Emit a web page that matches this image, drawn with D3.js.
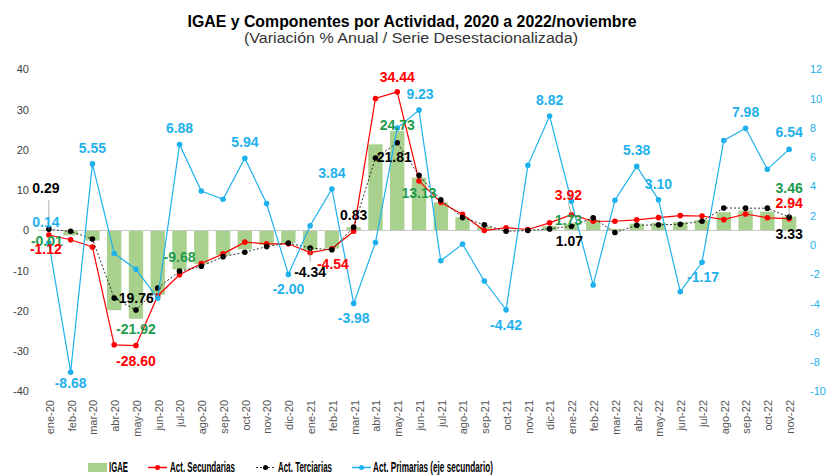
<!DOCTYPE html>
<html>
<head>
<meta charset="utf-8">
<script src="https://cdn.jsdelivr.net/npm/d3@7"></script>
<style>
  body { margin: 0; background: #fff; }
  text { font-family: "Liberation Sans", Arial, sans-serif; }
</style>
</head>
<body>
<svg id="chart" width="828" height="475"></svg>
<script>
// months, ene-20 .. nov-22
var months = ["ene-20","feb-20","mar-20","abr-20","may-20","jun-20","jul-20","ago-20","sep-20","oct-20","nov-20","dic-20",
  "ene-21","feb-21","mar-21","abr-21","may-21","jun-21","jul-21","ago-21","sep-21","oct-21","nov-21","dic-21",
  "ene-22","feb-22","mar-22","abr-22","may-22","jun-22","jul-22","ago-22","sep-22","oct-22","nov-22"]

var igae = [-0.01,-1.2,-2.5,-19.8,-21.92,-16.0,-9.68,-8.3,-6.1,-4.7,-3.6,-3.1,
  -4.9,-4.5,0.8,21.4,24.73,13.13,7.0,3.3,1.0,0.1,0.2,1.1,
  1.73,2.65,0.4,1.7,1.9,2.07,2.65,4.56,4.97,4.7,3.46]

var secundarias = [-1.12,-2.3,-4.1,-28.4,-28.60,-16.2,-11.0,-8.2,-5.8,-2.9,-3.3,-3.3,
  -5.5,-4.54,-0.2,32.8,34.44,12.3,7.0,4.0,0.0,0.7,0.25,1.9,
  3.92,2.3,2.3,2.65,3.2,3.7,3.6,2.7,4.1,3.15,2.94]

var terciarias = [0.29,-0.2,-2.1,-16.8,-19.76,-14.3,-10.1,-8.9,-6.5,-5.4,-4.0,-3.1,
  -4.34,-4.8,0.83,18.0,21.81,13.7,7.6,3.2,1.4,-0.2,0.0,0.4,
  1.07,3.15,-0.5,1.3,1.4,1.57,2.3,5.6,5.55,5.55,3.33]

var primarias = [0.14,-8.68,5.55,-0.57,-1.65,-3.63,6.88,3.7,3.13,5.94,2.84,-2.00,
  1.32,3.84,-3.98,0.18,8.0,9.23,-1.07,0.07,-2.45,-4.42,5.45,8.82,
  3.0,-2.72,3.07,5.38,3.10,-3.18,-1.17,7.15,7.98,5.18,6.54]

var leftTicks = [-40,-30,-20,-10,0,10,20,30,40]
var rightTicks = [-10,-8,-6,-4,-2,0,2,4,6,8,10,12]

// data labels: series, month index, offset
var labels = [
  {s:"igae",i:0,dx:-2,dy:10},{s:"igae",i:4,dx:0,dy:10},{s:"igae",i:6,dx:0,dy:-13},{s:"igae",i:16,dx:0,dy:-6},
  {s:"igae",i:17,dx:0,dy:15},{s:"igae",i:24,dx:-3,dy:-4},{s:"igae",i:34,dx:0,dy:-29},
  {s:"sec",i:0,dx:-3,dy:14},{s:"sec",i:4,dx:0,dy:15},{s:"sec",i:13,dx:1,dy:15},{s:"sec",i:16,dx:0,dy:-15},
  {s:"sec",i:24,dx:-3,dy:-20},{s:"sec",i:34,dx:0,dy:-16},
  {s:"ter",i:0,dx:-3,dy:-41},{s:"ter",i:4,dx:-2,dy:-12},{s:"ter",i:12,dx:0,dy:24},{s:"ter",i:14,dx:0,dy:-12},
  {s:"ter",i:16,dx:-3,dy:14},{s:"ter",i:24,dx:-2,dy:15},{s:"ter",i:34,dx:0,dy:17},
  {s:"pri",i:0,dx:-3,dy:-21},{s:"pri",i:1,dx:0,dy:11},{s:"pri",i:2,dx:0,dy:-16},{s:"pri",i:6,dx:0,dy:-16},
  {s:"pri",i:9,dx:0,dy:-16},{s:"pri",i:11,dx:0,dy:15},{s:"pri",i:13,dx:0,dy:-16},{s:"pri",i:14,dx:0,dy:15},
  {s:"pri",i:17,dx:1,dy:-16},{s:"pri",i:21,dx:0,dy:15},{s:"pri",i:23,dx:0,dy:-16},{s:"pri",i:27,dx:0,dy:-16},
  {s:"pri",i:28,dx:0,dy:-16},{s:"pri",i:30,dx:1,dy:15},{s:"pri",i:32,dx:0,dy:-16},{s:"pri",i:34,dx:0,dy:-17}
]

var svg = d3.select("#chart")
var green = "#a9d18e", greenTxt = "#1e9b4b", red = "#ff0000", blue = "#1fb1ec", dark = "#404040"
var fmt = function(v){ return d3.format(".2f")(v).replace("\u2212", "-") }

var x = d3.scaleBand().domain(months).range([38, 800]).paddingInner(0.34).paddingOuter(0.17)
var cx = function(i){ return x(months[i]) + x.bandwidth()/2 }
var y = d3.scaleLinear().domain([-40, 40]).range([391.5, 69.5])
var y2 = d3.scaleLinear().domain([-10, 12]).range([391.5, 69.5])

// squeeze a text horizontally to a given width (condensed look)
function squeeze(sel, x0, w) {
  var n = sel.node().getComputedTextLength()
  sel.attr("transform", "translate(" + x0 + ",0) scale(" + (w / n) + ",1)")
}

// titles
svg.append("text").attr("x", 412).attr("y", 27).attr("text-anchor", "middle").attr("font-size", 16.5).attr("font-weight", "bold")
  .attr("textLength", 449).attr("lengthAdjust", "spacingAndGlyphs").text("IGAE y Componentes por Actividad, 2020 a 2022/noviembre")
svg.append("text").attr("x", 411).attr("y", 43).attr("text-anchor", "middle").attr("font-size", 15.5).attr("fill", "#333")
  .attr("textLength", 334).attr("lengthAdjust", "spacingAndGlyphs").text("(Variación % Anual / Serie Desestacionalizada)")

// axes labels
svg.append("g").selectAll("text").data(leftTicks).join("text").attr("x", 29).attr("y", d => y(d)).attr("dy", "0.35em")
  .attr("text-anchor", "end").attr("font-size", 11).attr("fill", dark).text(d => d)
svg.append("g").selectAll("text").data(rightTicks).join("text").attr("x", 810).attr("y", d => y2(d)).attr("dy", "0.35em")
  .attr("text-anchor", "start").attr("font-size", 11).attr("fill", blue).text(d => d)
svg.append("g").selectAll("text").data(months).join("text")
  .attr("transform", (d, i) => "translate(" + (cx(i) + 1) + ",400) rotate(-90)")
  .attr("dy", "0.35em").attr("text-anchor", "end").attr("font-size", 11).attr("fill", "#555").text(d => d)

// bars
svg.append("g").selectAll("rect").data(igae).join("rect")
  .attr("x", (d, i) => x(months[i])).attr("width", x.bandwidth())
  .attr("y", d => y(Math.max(0, d))).attr("height", d => Math.abs(y(d) - y(0))).attr("fill", green)

svg.append("line").attr("x1", 38).attr("x2", 800).attr("y1", y(0)).attr("y2", y(0)).attr("stroke", "#c8c8c8").attr("stroke-width", 1)

// lines
function series(vals, sc, color, dash, width, r) {
  var g = svg.append("g")
  g.append("path").datum(vals).attr("fill", "none").attr("stroke", color).attr("stroke-width", width)
    .attr("stroke-dasharray", dash).attr("d", d3.line().x((d, i) => cx(i)).y(d => sc(d)))
  g.selectAll("circle").data(vals).join("circle").attr("cx", (d, i) => cx(i)).attr("cy", d => sc(d)).attr("r", r).attr("fill", color)
}
series(secundarias, y, red, null, 1.2, 2.8)
series(terciarias, y, "#000", "2,2", 0.8, 2.8)
series(primarias, y2, blue, null, 1.2, 2.8)

// leader lines
var leaders = [[0, "ter", -29], [12, "ter", 14], [24, "sec", -12], [34, "igae", -20]]
var lookup = {igae: [igae, y, greenTxt], sec: [secundarias, y, red], ter: [terciarias, y, "#000"], pri: [primarias, y2, blue]}
svg.append("g").selectAll("line").data(leaders).join("line")
  .attr("x1", d => cx(d[0]) - (d[1] == "sec" ? 3 : 0)).attr("x2", d => cx(d[0]))
  .attr("y1", d => lookup[d[1]][1](lookup[d[1]][0][d[0]]) + d[2]).attr("y2", d => lookup[d[1]][1](lookup[d[1]][0][d[0]]))
  .attr("stroke", "#9a9a9a").attr("stroke-width", 0.8)

// data labels
svg.append("g").selectAll("text").data(labels).join("text")
  .attr("x", d => cx(d.i) + d.dx).attr("y", d => lookup[d.s][1](lookup[d.s][0][d.i]) + d.dy).attr("dy", "0.36em")
  .attr("text-anchor", "middle").attr("font-size", 14).attr("font-weight", "bold").attr("fill", d => lookup[d.s][2])
  .text(d => fmt(lookup[d.s][0][d.i]))

// legend
var lg = svg.append("g")
lg.append("rect").attr("x", 88).attr("y", 463).attr("width", 19).attr("height", 9).attr("fill", green)
var t0 = lg.append("text").attr("y", 472.5).attr("font-size", 15).attr("font-weight", "bold").text("IGAE")
squeeze(t0, 109, 19)
var items = [[148, red, null, 170, 65, "Act. Secundarias"], [256, "#000", "2,2", 278, 54, "Act. Terciarias"], [352, blue, null, 373, 120, "Act. Primarias (eje secundario)"]]
items.forEach(function(it) {
  lg.append("line").attr("x1", it[0]).attr("x2", it[0] + 19).attr("y1", 467.5).attr("y2", 467.5).attr("stroke", it[1])
    .attr("stroke-width", it[2] ? 0.8 : 1.5).attr("stroke-dasharray", it[2])
  lg.append("circle").attr("cx", it[0] + 9.5).attr("cy", 467.5).attr("r", 2.5).attr("fill", it[1])
  var t = lg.append("text").attr("y", 472.5).attr("font-size", 15).attr("font-weight", "bold").text(it[5])
  squeeze(t, it[3], it[4])
})
</script>
</body>
</html>
